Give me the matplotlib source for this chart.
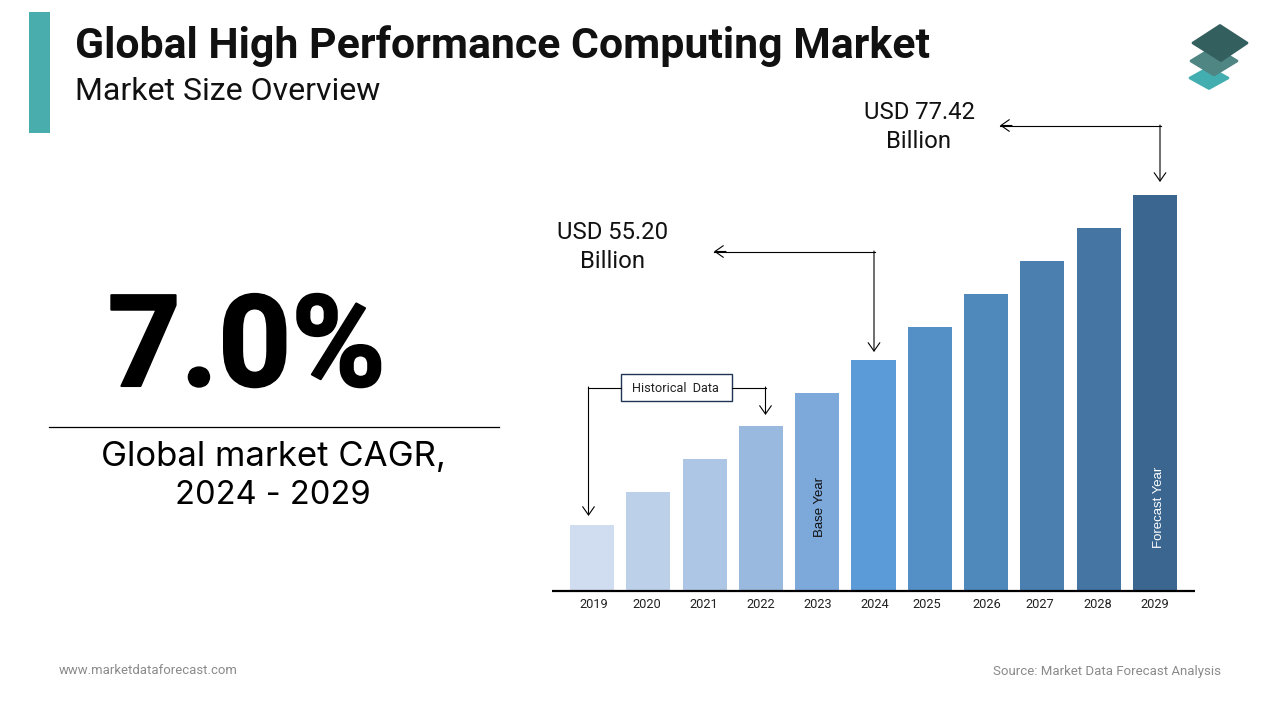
import matplotlib
matplotlib.use("Agg")
import matplotlib.pyplot as plt
import matplotlib.patheffects as pe
from matplotlib.patches import Polygon, Rectangle
from matplotlib.transforms import ScaledTranslation

# values, in USD billion
years = ["2019", "2020", "2021", "2022", "2023", "2024", "2025", "2026", "2027", "2028", "2029"]
market_size = [33.0, 37.4, 41.9, 46.3, 50.8, 55.2, 59.7, 64.1, 68.6, 73.0, 77.42]
bar_colors = ["#D0DCEF", "#BDD0EA", "#AEC6E5", "#99B9DF", "#7DA8DA", "#5B9BD7",
              "#5490C6", "#4F89BB", "#4A7FB0", "#4475A3", "#3A668F"]

W, H = 1280, 720
plt.rcParams["font.family"] = "Roboto"

fig = plt.figure(figsize=(W / 100, H / 100), dpi=100, facecolor="white")

# 1) Bar chart, axes placed in pixels of the figure
left, right, top, base = 552, 1195, 100, 590.5
ax = fig.add_axes([left / W, 1 - base / H, (right - left) / W, (base - top) / H])
step = 56.3
ax.set_xlim((left - 592) / step, (right - 592) / step)
y0 = 24.2
ax.set_ylim(y0, y0 + (base - top) * 4.444 / 33)
ax.bar(range(len(years)), market_size, width=0.785, color=bar_colors, bottom=0)
for s in ["top", "left", "right"]:
    ax.spines[s].set_visible(False)
ax.spines["bottom"].set_linewidth(1.6)
ax.spines["bottom"].set_capstyle("butt")
ax.set_yticks([])
ax.set_xticks(range(len(years)))
ax.set_xticklabels(years, fontsize=9.2, color="#222222")
ax.tick_params(axis="x", length=0, pad=5.5)

# tick labels in the reference are not quite centred under the bars
nudge_px = [2, -1.5, -0.5, -0.5, 0.5, 1, -3, 1, -2.5, -1, 0]
for lab, dx in zip(ax.get_xticklabels(), nudge_px):
    lab.set_transform(lab.get_transform() + ScaledTranslation(dx / 100, 0, fig.dpi_scale_trans))

# 2) Overlay in pixel coordinates for everything around the chart
ov = fig.add_axes([0, 0, 1, 1], zorder=5)
ov.set_xlim(0, W)
ov.set_ylim(H, 0)
ov.axis("off")

ov.add_patch(Rectangle((29, 12), 21, 121, color="#4AADAD", lw=0))
ov.text(75, 46, "Global High Performance Computing Market", fontsize=30.8,
        fontweight="bold", color="#111111", va="center", ha="left")
ov.text(75, 91, "Market Size Overview", fontsize=23, color="#111111", va="center", ha="left")

# logo, three stacked plates with rounded corners
ov.add_patch(Polygon([(1190, 78), (1209, 67.5), (1228, 78), (1209, 88.5)], closed=True,
                     fc="#43AEB0", ec="#43AEB0", lw=2, joinstyle="round"))
ov.add_patch(Polygon([(1191, 61), (1214, 47), (1237, 61), (1214, 75)], closed=True,
                     fc="#4F8583", ec="#4F8583", lw=2, joinstyle="round"))
ov.add_patch(Polygon([(1193, 43), (1220, 25.5), (1247, 43), (1221, 60.5)], closed=True,
                     fc="#33605F", ec="#33605F", lw=2, joinstyle="round"))

# left panel
ov.text(246.5, 386, "7.0%", fontsize=92, fontweight="bold", color="black",
        va="baseline", ha="center",
        path_effects=[pe.withStroke(linewidth=1.5, foreground="black")])
ov.plot([49, 499], [427, 427], color="black", lw=0.9)
ov.text(273, 457, "Global market CAGR,", fontsize=25, family="Inter", color="black",
        va="center", ha="center")
ov.text(273, 496, "2024 - 2029", fontsize=23.5, family="Inter", color="black",
        va="center", ha="center")

# callouts
ov.text(919, 127, "USD 77.42\nBillion", fontsize=17.2, color="#111111", va="center",
        ha="center", linespacing=1.37)
ov.text(613, 247, "USD 55.20\nBillion", fontsize=17.2, color="#111111", va="center",
        ha="center", linespacing=1.37)


def arrow(x0, y0_, x1, y1):
    ov.annotate("", xy=(x1, y1), xytext=(x0, y0_),
                arrowprops=dict(arrowstyle="->,head_length=0.5,head_width=0.35", color="black",
                                lw=0.8, mutation_scale=12, shrinkA=0, shrinkB=0))


ov.plot([1000, 1160.5], [125.5, 125.5], color="black", lw=0.8)
arrow(1012, 125.5, 1000, 125.5)
arrow(1160, 125, 1160, 182)
ov.plot([714, 874.5], [251.5, 251.5], color="black", lw=0.8)
arrow(726, 251.5, 714, 251.5)
arrow(874, 251, 874, 352)

arrow(588.5, 387, 588.5, 516)
ov.plot([588, 621], [387.5, 387.5], color="black", lw=0.8)
arrow(765.5, 387, 765.5, 415)
ov.plot([732, 766], [387.5, 387.5], color="black", lw=0.8)
ov.add_patch(Rectangle((621, 374), 111, 27, fc="white", ec="#1F3555", lw=1))
ov.text(675.5, 388, "Historical  Data", fontsize=9.2, color="#222222", va="center", ha="center")

ov.text(820, 507, "Base Year", fontsize=9.5, family="Liberation Sans", color="#111111",
        rotation=90, va="center", ha="center")
ov.text(1159, 507, "Forecast Year", fontsize=9.5, family="Liberation Sans", color="white",
        rotation=90, va="center", ha="center")

# footer
ov.text(59, 671, "www.marketdataforecast.com", fontsize=9.45, color="#8A8A8A", va="center", ha="left")
ov.text(1221, 671, "Source: Market Data Forecast Analysis", fontsize=9.55, color="#8A8A8A",
        va="center", ha="right")

fig.savefig("out.png", dpi=100)
